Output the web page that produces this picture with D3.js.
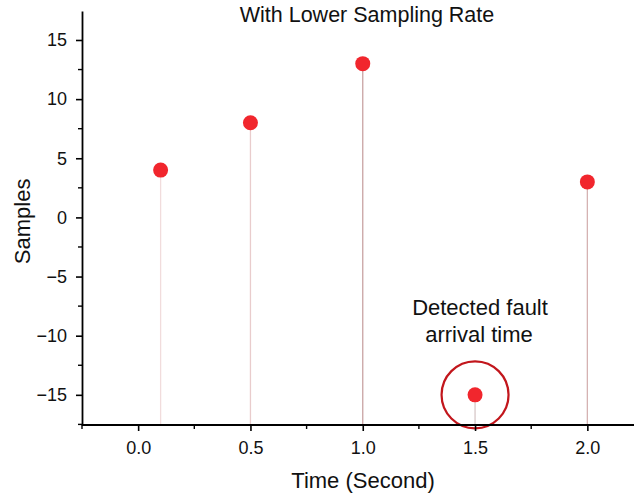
<!DOCTYPE html>
<html>
<head>
<meta charset="utf-8">
<script src="https://cdn.jsdelivr.net/npm/d3@7"></script>
<style>
  html, body { margin: 0; padding: 0; background: #fff; }
  svg { display: block; font-family: "Liberation Sans", Arial, sans-serif; }
</style>
</head>
<body>
<svg id="chart" width="634" height="496"></svg>
<script>
// Sample instants (s) and sampled values
const times = [0.1, 0.5, 1.0, 1.5, 2.0];
const samples = [4, 8, 13, -15, 3];
const xTicks = [0.0, 0.5, 1.0, 1.5, 2.0];
const yTicks = [-15, -10, -5, 0, 5, 10, 15];
// Sample flagged as fault arrival
const faultTime = 1.5;
const faultValue = -15;

const svg = d3.select("#chart");
const W = 634, H = 496;
const plotLeft = 82, plotTop = 11, plotBottom = 425;

const x = d3.scaleLinear().domain([-0.25, 2.25]).range([plotLeft, plotLeft + 561.5]);
const y = d3.scaleLinear().domain([-17.55, 17.45]).range([plotBottom, plotTop]);

// stem colours, one per sample
const stemColors = ["#f1dcdc", "#e9cccc", "#c9a3a3", "#d7c8c8", "#d5b2b2"];

const g = svg.append("g");

// stems from baseline to each sample
g.selectAll("line.stem")
  .data(times.map((t, i) => ({ t, v: samples[i], i })))
  .join("line")
  .attr("class", "stem")
  .attr("x1", d => x(d.t)).attr("x2", d => x(d.t))
  .attr("y1", y(-17.55)).attr("y2", d => y(d.v))
  .attr("stroke", d => stemColors[d.i])
  .attr("stroke-width", 1.3);

// markers
g.selectAll("circle.pt")
  .data(times.map((t, i) => ({ t, v: samples[i] })))
  .join("circle")
  .attr("class", "pt")
  .attr("cx", d => x(d.t)).attr("cy", d => y(d.v))
  .attr("r", 7.5)
  .attr("fill", "#f1262d");

// fault highlight ring
g.append("circle")
  .attr("cx", x(faultTime)).attr("cy", y(faultValue))
  .attr("r", 33.5)
  .attr("fill", "none")
  .attr("stroke", "#c2161c")
  .attr("stroke-width", 2.2);

// axes
const fmtY = d => d < 0 ? "\u2212" + Math.abs(d) : String(d);
const xAxis = d3.axisBottom(x).tickValues(xTicks).tickFormat(d3.format(".1f"))
  .tickSize(6).tickSizeOuter(0).tickPadding(10);
const yAxis = d3.axisLeft(y).tickValues(yTicks).tickFormat(fmtY)
  .tickSize(6).tickSizeOuter(0).tickPadding(9);

const gx = svg.append("g").attr("transform", `translate(0,${plotBottom})`).call(xAxis);
const gy = svg.append("g").attr("transform", `translate(${plotLeft},0)`).call(yAxis);

[gx, gy].forEach(a => {
  a.select(".domain").attr("stroke", "#000").attr("stroke-width", 1.8);
  a.selectAll(".tick line").attr("stroke", "#000").attr("stroke-width", 1.6);
  a.selectAll(".tick text").attr("fill", "#111").style("font-size", "18px")
    .style("font-family", "'Liberation Sans', Arial, sans-serif");
});
gx.select(".domain").attr("d", `M${plotLeft},0H${W}`);

// minor ticks
const xMinor = [-0.25, 0.25, 0.75, 1.25, 1.75];
gx.selectAll("line.minor").data(xMinor).join("line")
  .attr("class", "minor")
  .attr("x1", d => x(d)).attr("x2", d => x(d))
  .attr("y1", 0).attr("y2", 4)
  .attr("stroke", "#000").attr("stroke-width", 1.4);
const yMinor = [-17.5, -12.5, -7.5, -2.5, 2.5, 7.5, 12.5, 17.5].filter(v => v <= 17.45 && v >= -17.55);
gy.selectAll("line.minor").data(yMinor).join("line")
  .attr("class", "minor")
  .attr("y1", d => y(d)).attr("y2", d => y(d))
  .attr("x1", 0).attr("x2", -4)
  .attr("stroke", "#000").attr("stroke-width", 1.4);

// titles and labels
svg.append("text")
  .attr("x", 367).attr("y", 22)
  .attr("text-anchor", "middle")
  .style("font-size", "21.5px").attr("fill", "#111")
  .text("With Lower Sampling Rate");

svg.append("text")
  .attr("x", 363).attr("y", 488)
  .attr("text-anchor", "middle")
  .style("font-size", "22px").attr("fill", "#111")
  .text("Time (Second)");

svg.append("text")
  .attr("transform", `translate(30,${y(0) + 4}) rotate(-90)`)
  .attr("text-anchor", "middle")
  .style("font-size", "22px").attr("fill", "#111")
  .text("Samples");

const ann = svg.append("text")
  .attr("text-anchor", "middle")
  .style("font-size", "22px").attr("fill", "#111");
ann.append("tspan").attr("x", 480).attr("y", 315).text("Detected fault");
ann.append("tspan").attr("x", 479).attr("y", 342).text("arrival time");
</script>
</body>
</html>
